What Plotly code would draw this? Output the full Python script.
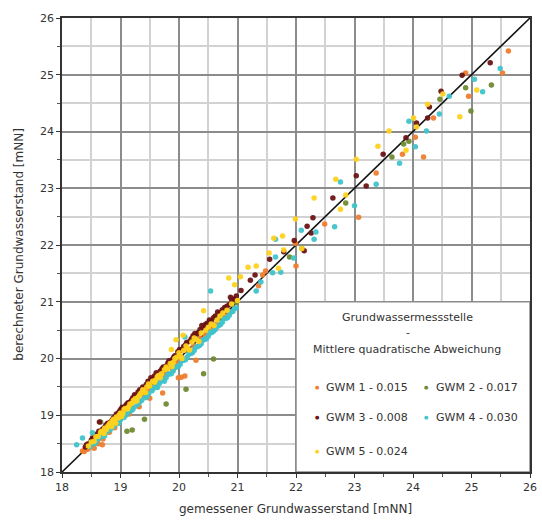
import plotly.graph_objects as go

# ---------------- data ----------------
series_names = ["GWM 1 - 0.015", "GWM 2 - 0.017", "GWM 3 - 0.008", "GWM 4 - 0.030", "GWM 5 - 0.024"]
series_colors = ["#EF7D2F", "#6F8A32", "#6A1414", "#3FC3CB", "#FFD21E"]

# GWM 1 (measured, computed)
gwm1_x = [18.35, 18.38, 18.40, 18.42, 18.46, 18.48, 18.50, 18.53, 18.57, 18.60, 18.62, 18.64, 18.68, 18.70,
          18.72, 18.76, 18.80, 18.84, 18.88, 18.92, 18.96, 19.00, 19.05, 19.10, 19.15, 19.20, 19.25, 19.30,
          19.36, 19.42, 19.48, 19.55, 19.62, 19.70, 19.78, 19.86, 19.95, 20.05, 20.15, 20.25, 20.35, 20.45,
          20.55, 20.65, 20.75, 20.85,
          18.44, 18.52, 18.58, 18.66, 18.74, 18.78, 18.86, 18.94, 19.02, 19.08, 19.18, 19.28, 19.40, 19.52,
          19.60, 19.75, 19.90, 20.00, 20.20, 20.40, 20.60, 20.80, 18.70, 18.90, 19.15,
          18.62, 18.69, 18.81, 18.55, 19.72, 19.99, 20.04, 20.10, 20.29, 19.50, 19.32,
          21.36, 21.43, 21.48, 21.99, 22.00, 22.49, 23.07, 23.37, 23.82, 24.04, 24.18, 24.35, 24.95, 24.90,
          25.53, 25.63]
gwm1_y = [18.37, 18.36, 18.43, 18.40, 18.47, 18.44, 18.53, 18.50, 18.58, 18.55, 18.65, 18.60, 18.70, 18.66,
          18.74, 18.73, 18.82, 18.80, 18.90, 18.88, 18.98, 18.96, 19.07, 19.06, 19.17, 19.16, 19.27, 19.26,
          19.38, 19.40, 19.46, 19.57, 19.58, 19.69, 19.76, 19.84, 19.93, 20.02, 20.14, 20.22, 20.36, 20.42,
          20.56, 20.62, 20.76, 20.83,
          18.40, 18.56, 18.52, 18.68, 18.70, 18.76, 18.84, 18.92, 19.00, 19.10, 19.12, 19.30, 19.34, 19.50,
          19.52, 19.70, 19.80, 19.95, 20.12, 20.34, 20.52, 20.74, 18.58, 18.78, 19.02,
          18.50, 18.48, 18.70, 18.42, 19.39, 19.66, 19.67, 19.69, 19.97, 19.30, 19.15,
          21.28, 21.47, 21.54, 22.03, 21.63, 22.37, 22.49, 23.27, 23.60, 23.90, 23.55, 24.24, 24.62, 25.03,
          25.03, 25.42]

# GWM 2
gwm2_x = [18.55, 18.78, 19.00, 19.28, 19.55, 19.88, 20.30, 20.72, 20.98,
          18.66, 19.11, 19.20, 19.41, 19.78, 20.12, 20.42, 20.59,
          21.89, 22.10, 22.85, 23.64, 23.84, 23.93, 24.46, 24.90, 24.99, 25.34]
gwm2_y = [18.60, 18.80, 19.02, 19.30, 19.53, 19.90, 20.33, 20.70, 20.99,
          18.88, 18.72, 18.74, 18.93, 19.20, 19.46, 19.73, 19.99,
          21.79, 21.94, 22.74, 23.55, 23.78, 23.83, 24.57, 24.77, 24.36, 24.82]

# GWM 3
gwm3_x = [18.40, 18.45, 18.50, 18.55, 18.60, 18.66, 18.72, 18.78, 18.83, 18.88, 18.93, 18.97, 19.01, 19.05,
          19.09, 19.13, 19.17, 19.21, 19.26, 19.30, 19.35, 19.40, 19.44, 19.49, 19.54, 19.58, 19.63, 19.68,
          19.73, 19.78, 19.83, 19.88, 19.93, 19.98, 20.03, 20.08, 20.13, 20.18, 20.24, 20.30, 20.36, 20.42,
          20.48, 20.55, 20.62, 20.70, 20.78, 20.86, 20.94,
          18.42, 18.52, 18.58, 18.63, 18.69, 18.75, 18.86, 18.91, 18.99, 19.03, 19.11, 19.19, 19.24, 19.33,
          19.38, 19.47, 19.52, 19.61, 19.71, 19.81, 19.91, 20.01, 20.11, 20.21, 20.27, 20.33, 20.39, 20.45,
          20.52, 20.59, 20.66, 20.74, 20.82, 20.90, 20.98,
          18.64, 20.88, 21.06, 21.22, 21.30, 21.55, 21.79, 21.97, 22.14, 22.19, 22.26, 22.29, 22.63, 23.03,
          23.20, 23.49, 23.88, 24.06, 24.25, 24.28, 24.48, 24.84, 25.32]
gwm3_y = [18.44, 18.50, 18.56, 18.58, 18.67, 18.71, 18.78, 18.86, 18.88, 18.95, 19.02, 19.05, 19.11, 19.11,
          19.17, 19.22, 19.24, 19.31, 19.34, 19.41, 19.44, 19.47, 19.54, 19.55, 19.63, 19.69, 19.71, 19.78,
          19.85, 19.87, 19.96, 19.98, 20.05, 20.12, 20.14, 20.21, 20.28, 20.30, 20.40, 20.43, 20.51, 20.54,
          20.62, 20.66, 20.75, 20.80, 20.90, 20.95, 21.05,
          18.48, 18.60, 18.64, 18.72, 18.75, 18.83, 18.92, 18.98, 19.08, 19.14, 19.20, 19.27, 19.36, 19.45,
          19.50, 19.60, 19.66, 19.75, 19.82, 19.92, 20.02, 20.16, 20.24, 20.35, 20.44, 20.46, 20.58, 20.60,
          20.68, 20.72, 20.82, 20.86, 20.92, 21.04, 21.10,
          18.88, 21.08, 21.20, 21.38, 21.47, 21.75, 21.88, 22.08, 21.90, 22.33, 22.21, 22.48, 22.83, 23.22,
          23.04, 23.60, 23.89, 24.15, 24.24, 24.43, 24.71, 24.99, 25.21]

# GWM 4
gwm4_x = [18.48, 18.55, 18.62, 18.70, 18.76, 18.82, 18.88, 18.94, 19.00, 19.06, 19.12, 19.18, 19.24, 19.30,
          19.36, 19.42, 19.48, 19.54, 19.60, 19.66, 19.72, 19.78, 19.84, 19.90, 19.96, 20.02, 20.08, 20.14,
          20.20, 20.26, 20.32, 20.38, 20.44, 20.50, 20.56, 20.62, 20.68, 20.74, 20.80, 20.86, 20.92, 20.98,
          18.58, 18.66, 18.73, 18.85, 18.97, 19.09, 19.21, 19.33, 19.45, 19.57, 19.63, 19.69, 19.75, 19.81,
          19.87, 19.93, 19.99, 20.05, 20.11, 20.17, 20.23, 20.29, 20.35, 20.41, 20.47, 20.53, 20.59, 20.65,
          20.71, 20.77, 20.83, 20.89, 20.95,
          18.25, 18.35, 18.52, 20.10,
          20.54, 21.32, 21.40, 21.60, 21.65, 21.65, 21.74, 21.96, 22.09, 22.31, 22.34, 22.66, 22.76, 23.00,
          23.37, 23.77, 23.93, 24.04, 24.23, 24.45, 24.62, 25.05, 25.19, 25.49]
gwm4_y = [18.45, 18.50, 18.58, 18.63, 18.70, 18.74, 18.80, 18.85, 18.92, 18.96, 19.03, 19.08, 19.15, 19.19,
          19.26, 19.31, 19.38, 19.43, 19.50, 19.55, 19.62, 19.66, 19.73, 19.78, 19.85, 19.90, 19.97, 20.02,
          20.09, 20.14, 20.21, 20.26, 20.34, 20.39, 20.46, 20.51, 20.58, 20.64, 20.71, 20.76, 20.83, 20.89,
          18.52, 18.62, 18.64, 18.78, 18.86, 19.00, 19.10, 19.24, 19.32, 19.48, 19.49, 19.60, 19.60, 19.72,
          19.73, 19.84, 19.86, 19.96, 19.98, 20.08, 20.10, 20.20, 20.23, 20.32, 20.35, 20.45, 20.48, 20.56,
          20.60, 20.70, 20.72, 20.82, 20.88,
          18.48, 18.60, 18.69, 20.38,
          21.19, 21.19, 21.35, 21.51, 21.79, 22.10, 21.52, 21.77, 22.26, 22.10, 22.23, 22.32, 23.11, 22.69,
          23.07, 23.44, 24.18, 23.73, 24.01, 24.31, 24.62, 24.92, 24.70, 25.11]

# GWM 5
gwm5_x = [18.45, 18.50, 18.55, 18.58, 18.62, 18.66, 18.70, 18.73, 18.76, 18.80, 18.83, 18.86, 18.90, 18.93,
          18.96, 19.00, 19.04, 19.08, 19.12, 19.16, 19.20, 19.25, 19.30, 19.35, 19.40, 19.45, 19.50, 19.55,
          19.60, 19.65, 19.70, 19.75, 19.80, 19.85, 19.90, 19.96, 20.02, 20.08, 20.15, 20.22, 20.30, 20.38,
          20.46, 20.55, 20.65, 20.75,
          18.68, 18.72, 18.78, 18.82, 18.85, 18.88, 18.92, 18.98, 19.02, 19.06, 19.14, 19.22, 19.28, 19.33,
          19.38, 19.43, 19.48, 19.58, 19.63, 19.68, 19.78, 19.88, 19.93, 20.00, 20.05, 20.12, 20.18, 20.26,
          20.34, 20.50, 20.60, 20.70, 20.82, 20.90, 21.00,
          19.87, 19.95, 20.07, 20.42,
          20.85, 20.95, 21.05, 21.18, 21.32, 21.54, 21.62, 21.70, 21.77, 21.79, 21.99, 22.10, 22.31, 22.68,
          22.76, 22.85, 23.03, 23.40, 23.59, 23.88, 24.01, 24.06, 24.25, 24.51, 24.80, 25.09]
gwm5_y = [18.46, 18.53, 18.54, 18.62, 18.63, 18.70, 18.69, 18.77, 18.75, 18.83, 18.82, 18.90, 18.89, 18.97,
          18.95, 19.04, 19.03, 19.12, 19.11, 19.20, 19.21, 19.29, 19.32, 19.39, 19.42, 19.50, 19.52, 19.60,
          19.62, 19.70, 19.73, 19.80, 19.82, 19.91, 19.93, 20.02, 20.05, 20.14, 20.18, 20.29, 20.33, 20.45,
          20.50, 20.61, 20.68, 20.80,
          18.72, 18.68, 18.80, 18.86, 18.80, 18.93, 18.86, 19.01, 18.98, 19.10, 19.15, 19.26, 19.25, 19.36,
          19.45, 19.40, 19.55, 19.58, 19.68, 19.66, 19.85, 19.86, 20.00, 20.10, 20.00, 20.22, 20.15, 20.36,
          20.30, 20.55, 20.58, 20.75, 20.85, 20.96, 21.02,
          20.16, 20.33, 20.41, 20.84,
          21.42, 21.30, 21.44, 21.61, 21.63, 21.86, 22.12, 21.59, 22.16, 21.91, 22.46, 21.94, 22.83, 23.16,
          22.63, 22.88, 23.51, 23.74, 24.01, 23.67, 24.24, 24.08, 24.48, 24.66, 24.26, 24.73]

axis_range = [18, 26]
tick_values = [18, 19, 20, 21, 22, 23, 24, 25, 26]
legend_title = "Grundwassermessstelle"
legend_sub = "Mittlere quadratische Abweichung"
x_title = "gemessener Grundwasserstand [mNN]"
y_title = "berechneter Grundwasserstand [mNN]"

xs = [gwm1_x, gwm2_x, gwm3_x, gwm4_x, gwm5_x]
ys = [gwm1_y, gwm2_y, gwm3_y, gwm4_y, gwm5_y]

FONT = "DejaVu Sans"
TXT = "#333333"

fig = go.Figure()

# 1:1 line
fig.add_trace(go.Scatter(x=axis_range, y=axis_range, mode="lines",
                         line=dict(color="#111111", width=1.6), showlegend=False, hoverinfo="skip"))

for name, col, x, y in zip(series_names, series_colors, xs, ys):
    fig.add_trace(go.Scatter(x=x, y=y, mode="markers", name=name,
                             marker=dict(size=5.5, color=col, opacity=0.95, line=dict(width=0)),
                             showlegend=False))

axis_common = dict(
    range=axis_range, tickmode="array", tickvals=tick_values,
    showgrid=True, gridcolor="#8c8c8c", gridwidth=1.5,
    minor=dict(dtick=0.5, tick0=18, showgrid=True, gridcolor="#d2d2d2", gridwidth=1.5,
               ticks="outside", ticklen=3, tickcolor="#555555"),
    ticks="outside", ticklen=4, tickcolor="#333333", tickwidth=1,
    showline=True, linecolor="#333333", linewidth=1.5, mirror=True,
    zeroline=False, tickfont=dict(family=FONT, size=11, color=TXT),
)

fig.update_layout(
    width=542, height=525,
    margin=dict(l=62, r=5, t=18, b=53),
    paper_bgcolor="white", plot_bgcolor="white",
    xaxis=axis_common, yaxis=axis_common,
    font=dict(family=FONT, color=TXT),
    showlegend=False,
)

# white legend panel
fig.add_shape(type="rect", xref="x", yref="y", x0=22, x1=26, y0=18, y1=21,
              fillcolor="white", line=dict(color="#8c8c8c", width=1.5), layer="between")

def px_x(p):
    return (p - 62) / 475.0

def px_y(p):
    return (472 - p) / 454.0

ann = []
ann.append(dict(text=legend_title, x=px_x(413), y=px_y(317)))
ann.append(dict(text="-", x=px_x(413), y=px_y(332)))
ann.append(dict(text=legend_sub, x=px_x(412), y=px_y(349)))
for a in ann:
    a.update(xref="paper", yref="paper", showarrow=False, xanchor="center", yanchor="middle",
             font=dict(family=FONT, size=11, color=TXT))

rows = [387, 417, 451]
cols = [(321, 328), (432, 440)]
for i, (name, col) in enumerate(zip(series_names, series_colors)):
    r = rows[i // 2]
    dx, tx = cols[i % 2]
    ann.append(dict(text="●", x=px_x(dx), y=px_y(r), xref="paper", yref="paper", showarrow=False,
                    xanchor="center", yanchor="middle", font=dict(family=FONT, size=5, color=col)))
    ann.append(dict(text=name, x=px_x(tx), y=px_y(r), xref="paper", yref="paper", showarrow=False,
                    xanchor="left", yanchor="middle", font=dict(family=FONT, size=11, color=TXT)))

ann.append(dict(text=x_title, x=px_x(299), y=px_y(509), xref="paper", yref="paper", showarrow=False,
                xanchor="center", yanchor="middle", font=dict(family=FONT, size=12, color=TXT)))
ann.append(dict(text=y_title, x=px_x(18), y=px_y(245), xref="paper", yref="paper", showarrow=False,
                xanchor="center", yanchor="middle", textangle=-90,
                font=dict(family=FONT, size=12, color=TXT)))

fig.update_layout(annotations=ann)

fig.write_html("out.html")
